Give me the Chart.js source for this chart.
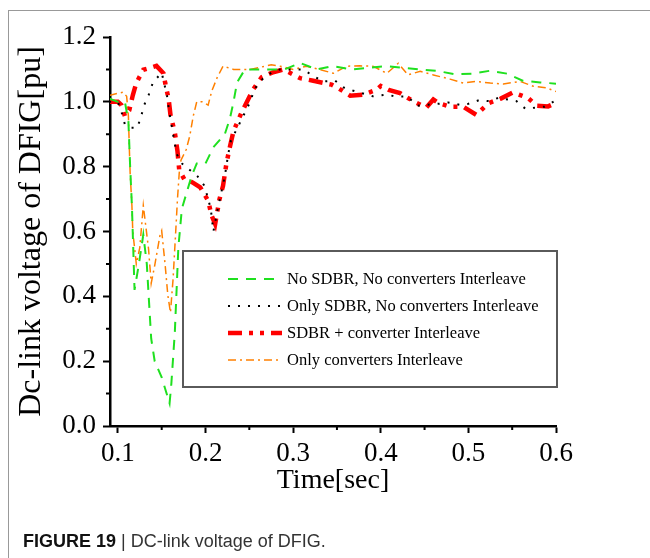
<!DOCTYPE html>
<html>
<head>
<meta charset="utf-8">
<script src="https://cdn.jsdelivr.net/npm/chart.js@4"></script>
<style>
  html, body { margin: 0; padding: 0; background: #fff; }
  #wrap { position: relative; width: 650px; height: 558px; overflow: hidden; }
  #frame { position: absolute; left: 8px; top: 10px; right: -10px; bottom: -10px; border-left: 1px solid #999; border-top: 1px solid #999; }
  #chartDcLink { position: absolute; left: 0; top: 0; }
  #caption { position: absolute; left: 23px; top: 531px; font: 18px/20px "Liberation Sans", Arial, sans-serif; color: #333; white-space: nowrap; }
  #caption b { color: #111; }
</style>
</head>
<body>
<div id="wrap">
  <div id="frame"></div>
  <canvas id="chartDcLink" width="650" height="558"></canvas>
  <div id="caption"><b>FIGURE 19</b> | DC-link voltage of DFIG.</div>
</div>
<script>
/* ==================== DATA ==================== */
const seriesLabels = [
  "No SDBR, No converters Interleave",
  "Only SDBR, No converters Interleave",
  "SDBR + converter Interleave",
  "Only converters Interleave",
];

const xTickValues = [0.1, 0.2, 0.3, 0.4, 0.5, 0.6];
const yTickValues = [0.0, 0.2, 0.4, 0.6, 0.8, 1.0, 1.2];

// No SDBR, No converters Interleave
const greenTime = [0.09, 0.1, 0.108, 0.112, 0.114, 0.116, 0.119, 0.124, 0.129, 0.133, 0.138, 0.142, 0.15, 0.159, 0.161, 0.165, 0.169, 0.173, 0.184, 0.19, 0.2, 0.209, 0.222, 0.228, 0.232, 0.236, 0.245, 0.26, 0.275, 0.29, 0.308, 0.327, 0.345, 0.367, 0.385, 0.407, 0.425, 0.445, 0.465, 0.485, 0.504, 0.525, 0.544, 0.562, 0.582, 0.6];
const greenVolt = [1.01, 1.0, 1.0, 0.94, 0.8, 0.68, 0.42, 0.5, 0.59, 0.5, 0.27, 0.2, 0.15, 0.07, 0.13, 0.29, 0.55, 0.67, 0.77, 0.81, 0.81, 0.86, 0.9, 0.95, 1.0, 1.06, 1.1, 1.1, 1.1, 1.1, 1.12, 1.1, 1.11, 1.1, 1.105, 1.11, 1.105, 1.1, 1.095, 1.085, 1.087, 1.096, 1.087, 1.065, 1.06, 1.056];

// Only SDBR, No converters Interleave
const blackTime = [0.09, 0.1, 0.104, 0.108, 0.115, 0.122, 0.126, 0.13, 0.135, 0.14, 0.15, 0.156, 0.158, 0.163, 0.167, 0.173, 0.182, 0.191, 0.199, 0.203, 0.206, 0.209, 0.214, 0.218, 0.222, 0.226, 0.229, 0.241, 0.251, 0.256, 0.265, 0.275, 0.285, 0.3, 0.311, 0.323, 0.334, 0.348, 0.357, 0.368, 0.391, 0.407, 0.418, 0.43, 0.442, 0.466, 0.477, 0.49, 0.5, 0.512, 0.524, 0.534, 0.546, 0.555, 0.565, 0.587, 0.6];
const blackVolt = [1.0, 1.0, 0.97, 0.93, 0.92, 0.92, 0.95, 0.99, 1.02, 1.06, 1.09, 1.02, 0.98, 0.9, 0.84, 0.81, 0.79, 0.77, 0.74, 0.7, 0.67, 0.6, 0.67, 0.72, 0.77, 0.84, 0.88, 0.945, 1.0, 1.04, 1.07, 1.09, 1.1, 1.1, 1.1, 1.08, 1.063, 1.065, 1.045, 1.035, 1.017, 1.022, 1.016, 1.017, 0.988, 0.994, 0.998, 0.991, 0.994, 1.005, 1.002, 1.012, 1.007, 1.002, 0.979, 0.985, 1.005];

// SDBR + converter Interleave
const redTime = [0.09, 0.1, 0.104, 0.108, 0.113, 0.117, 0.121, 0.129, 0.137, 0.144, 0.152, 0.154, 0.158, 0.16, 0.165, 0.168, 0.17, 0.176, 0.182, 0.186, 0.194, 0.203, 0.207, 0.211, 0.216, 0.22, 0.224, 0.228, 0.232, 0.241, 0.254, 0.264, 0.276, 0.289, 0.308, 0.323, 0.344, 0.351, 0.365, 0.38, 0.395, 0.4, 0.409, 0.422, 0.437, 0.452, 0.46, 0.466, 0.479, 0.494, 0.509, 0.523, 0.537, 0.551, 0.568, 0.578, 0.591, 0.6];
const redVolt = [1.0, 1.0, 0.99, 0.956, 0.974, 1.02, 1.058, 1.099, 1.105, 1.111, 1.088, 1.058, 1.007, 0.96, 0.905, 0.848, 0.79, 0.76, 0.756, 0.75, 0.736, 0.695, 0.649, 0.623, 0.7, 0.741, 0.812, 0.863, 0.91, 0.966, 1.037, 1.076, 1.09, 1.1, 1.073, 1.065, 1.053, 1.043, 1.019, 1.022, 1.037, 1.049, 1.037, 1.027, 1.002, 0.982, 1.007, 0.996, 0.985, 0.985, 0.96, 0.996, 1.01, 1.029, 1.012, 0.988, 0.986, 0.997];

// Only converters Interleave
const orangeTime = [0.09, 0.106, 0.11, 0.112, 0.113, 0.114, 0.116, 0.117, 0.121, 0.125, 0.129, 0.135, 0.138, 0.142, 0.148, 0.15, 0.154, 0.157, 0.16, 0.163, 0.166, 0.168, 0.17, 0.172, 0.178, 0.182, 0.186, 0.19, 0.196, 0.203, 0.207, 0.213, 0.22, 0.232, 0.251, 0.275, 0.285, 0.3, 0.315, 0.33, 0.346, 0.361, 0.376, 0.391, 0.407, 0.42, 0.431, 0.445, 0.46, 0.479, 0.494, 0.509, 0.525, 0.54, 0.559, 0.574, 0.589, 0.6];
const orangeVolt = [1.02, 1.03, 1.017, 0.956, 0.863, 0.78, 0.68, 0.6, 0.5, 0.55, 0.68, 0.546, 0.44, 0.495, 0.587, 0.602, 0.495, 0.403, 0.35, 0.454, 0.6, 0.7, 0.78, 0.82, 0.853, 0.894, 0.956, 1.0, 1.0, 0.99, 1.032, 1.073, 1.11, 1.1, 1.1, 1.114, 1.11, 1.1, 1.11, 1.1, 1.088, 1.11, 1.111, 1.11, 1.088, 1.119, 1.083, 1.094, 1.083, 1.07, 1.058, 1.063, 1.058, 1.055, 1.063, 1.048, 1.043, 1.032];

const toPoints = (xs, ys) => xs.map((x, i) => ({ x: x, y: ys[i] }));

/* ==================== PLUGINS ==================== */
// minor ticks between the labelled ones
const minorTicks = {
  id: "minorTicks",
  afterDraw(chart) {
    const { ctx, chartArea } = chart;
    const xs = chart.scales.x;
    const ys = chart.scales.y;
    ctx.save();
    ctx.strokeStyle = "#000";
    ctx.lineWidth = 2;
    ctx.beginPath();
    for (let i = 0; i < xTickValues.length - 1; i++) {
      const px = xs.getPixelForValue((xTickValues[i] + xTickValues[i + 1]) / 2);
      ctx.moveTo(px, chartArea.bottom);
      ctx.lineTo(px, chartArea.bottom + 4);
    }
    for (let i = 0; i < yTickValues.length - 1; i++) {
      const py = ys.getPixelForValue((yTickValues[i] + yTickValues[i + 1]) / 2);
      ctx.moveTo(chartArea.left, py);
      ctx.lineTo(chartArea.left - 4, py);
    }
    ctx.stroke();
    ctx.restore();
  },
};

// boxed legend sitting inside the plot
const boxLegend = {
  id: "boxLegend",
  afterDatasetsDraw(chart) {
    const { ctx, chartArea } = chart;
    const left = chartArea.left + 73;
    const top = chartArea.top + 214;
    const right = chartArea.right + 1;
    const height = 136;
    ctx.save();
    ctx.fillStyle = "#fff";
    ctx.fillRect(left, top, right - left, height);
    ctx.strokeStyle = "#5a5a5a";
    ctx.lineWidth = 2;
    ctx.strokeRect(left, top, right - left, height);
    ctx.font = '16.5px "Liberation Serif", "Times New Roman", serif';
    ctx.textBaseline = "middle";
    chart.data.datasets.forEach((ds, i) => {
      const y = top + 28 + i * 27;
      ctx.strokeStyle = ds.borderColor;
      ctx.lineWidth = ds.borderWidth;
      ctx.setLineDash(ds.borderDash);
      ctx.beginPath();
      ctx.moveTo(left + 45, y);
      ctx.lineTo(left + 99, y);
      ctx.stroke();
      ctx.setLineDash([]);
      ctx.fillStyle = "#000";
      ctx.fillText(ds.label, left + 104, y + 1);
    });
    ctx.restore();
  },
};

/* ==================== CHART ==================== */
const serif = '"Liberation Serif", "Times New Roman", serif';

new Chart(document.getElementById("chartDcLink"), {
  type: "line",
  data: {
    datasets: [
      { label: seriesLabels[0], data: toPoints(greenTime, greenVolt), borderColor: "#1fe01f", borderWidth: 2, borderDash: [10, 8] },
      { label: seriesLabels[1], data: toPoints(blackTime, blackVolt), borderColor: "#000000", borderWidth: 2, borderDash: [2, 8] },
      { label: seriesLabels[2], data: toPoints(redTime, redVolt), borderColor: "#ff0000", borderWidth: 4.5, borderDash: [14, 7, 4, 7, 4, 7] },
      { label: seriesLabels[3], data: toPoints(orangeTime, orangeVolt), borderColor: "#ff8000", borderWidth: 1.5, borderDash: [8, 4, 2, 4] },
    ],
  },
  options: {
    responsive: false,
    animation: false,
    parsing: false,
    elements: { point: { radius: 0 }, line: { tension: 0, fill: false } },
    layout: { padding: { left: 12, top: 37, right: 94, bottom: 61 } },
    plugins: { legend: { display: false }, tooltip: { enabled: false } },
    scales: {
      x: {
        type: "linear",
        min: 0.091,
        max: 0.6,
        afterBuildTicks: (scale) => { scale.ticks = xTickValues.map((v) => ({ value: v })); },
        afterFit: (scale) => { scale.height = 71; },
        ticks: { color: "#000", padding: 5, maxRotation: 0, font: { family: serif, size: 27 }, callback: (v) => v.toFixed(1) },
        grid: { drawOnChartArea: false, drawTicks: true, tickLength: 7, tickColor: "#000", tickWidth: 2 },
        border: { display: true, color: "#000", width: 2.5 },
        title: { display: true, text: "Time[sec]", color: "#000", padding: 0, font: { family: serif, size: 28 } },
      },
      y: {
        min: 0,
        max: 1.2,
        afterBuildTicks: (scale) => { scale.ticks = yTickValues.map((v) => ({ value: v })); },
        afterFit: (scale) => { scale.width = 98; },
        ticks: { color: "#000", padding: 7, font: { family: serif, size: 27 }, callback: (v) => v.toFixed(1) },
        grid: { drawOnChartArea: false, drawTicks: true, tickLength: 7, tickColor: "#000", tickWidth: 2 },
        border: { display: true, color: "#000", width: 2.5 },
        title: { display: true, text: "Dc-link voltage of DFIG[pu]", color: "#000", padding: 0, font: { family: serif, size: 32 } },
      },
    },
  },
  plugins: [minorTicks, boxLegend],
});
</script>
</body>
</html>
